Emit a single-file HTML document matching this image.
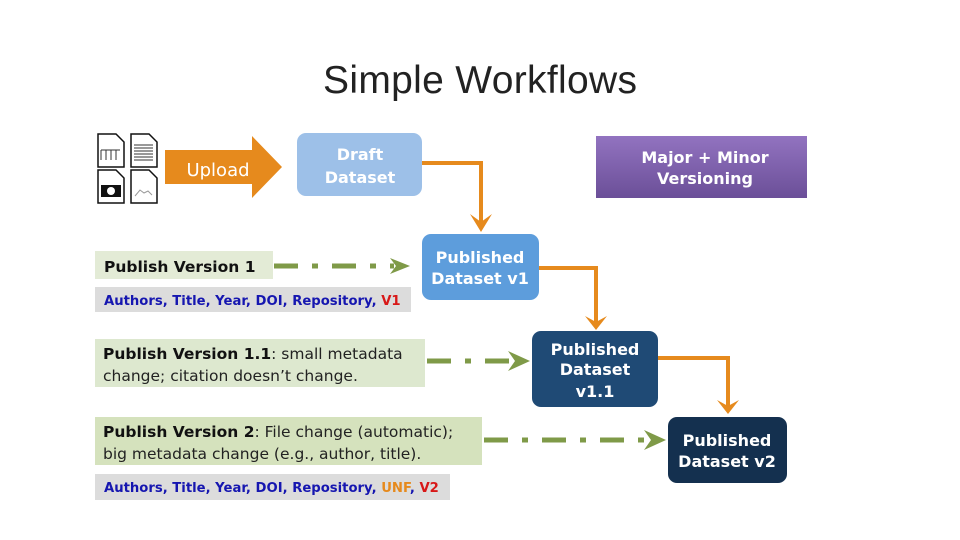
<!DOCTYPE html>
<html><head><meta charset="utf-8"><style>
html,body{margin:0;padding:0;background:#fff;}
svg{display:block}
.t{font-family:"DejaVu Sans","Liberation Sans",sans-serif;font-weight:bold;fill:#fff;font-size:16px;text-anchor:middle}
.b{font-family:"DejaVu Sans","Liberation Sans",sans-serif;font-size:15.5px;}
.c{font-family:"DejaVu Sans","Liberation Sans",sans-serif;font-size:13.2px;font-weight:bold;}
</style></head><body>
<svg width="960" height="540" viewBox="0 0 960 540" xmlns="http://www.w3.org/2000/svg">
<defs>
<linearGradient id="pg" x1="0" y1="0" x2="0" y2="1"><stop offset="0" stop-color="#9273c0"/><stop offset="1" stop-color="#6b4f98"/></linearGradient>
</defs>
<text x="480" y="93" text-anchor="middle" font-family="Liberation Sans,sans-serif" font-size="39" fill="#222" textLength="314">Simple Workflows</text>

<g fill="#fff" stroke="#111" stroke-width="1.5">
<path d="M98 134h18l8 8v25H98z"/><path d="M131 134h18l8 8v25h-26z"/>
<path d="M98 170h18l8 8v25H98z"/><path d="M131 170h18l8 8v25h-26z"/>
</g>
<g stroke="#333" stroke-width="1"><path d="M101 150h19M101 150v10M106 150v10M111 150v10M116 150v10"/>
<path d="M134 145h19M134 148h19M134 151h19M134 154h19M134 157h19M134 160h19"/></g>
<rect x="101" y="185" width="20" height="12" fill="#111"/><circle cx="111" cy="191" r="4" fill="#fff"/>
<path d="M135 196l5-6 4 3 4-2 4 4" stroke="#999" fill="none"/>

<path d="M165 150h87v-14l30 31-30 31v-14h-87z" fill="#e68a1d"/>
<text x="218" y="176" font-family="DejaVu Sans,sans-serif" font-size="18" fill="#fff" text-anchor="middle">Upload</text>

<rect x="297" y="133" width="125" height="63" rx="9" fill="#9dc0e8"/>
<text class="t" x="360" y="160">Draft</text><text class="t" x="360" y="183">Dataset</text>

<rect x="596" y="136" width="211" height="62" fill="url(#pg)"/>
<text class="t" x="705" y="163">Major + Minor</text><text class="t" x="705" y="184">Versioning</text>

<rect x="422" y="234" width="117" height="66" rx="9" fill="#5d9ddc"/>
<text class="t" x="480" y="263">Published</text><text class="t" x="480" y="284">Dataset v1</text>

<rect x="532" y="331" width="126" height="76" rx="9" fill="#1f4a75"/>
<text class="t" x="595" y="355">Published</text><text class="t" x="595" y="375">Dataset</text><text class="t" x="595" y="397">v1.1</text>

<rect x="668" y="417" width="119" height="66" rx="9" fill="#14304f"/>
<text class="t" x="727" y="446">Published</text><text class="t" x="727" y="467">Dataset v2</text>

<g stroke="#e68a1d" stroke-width="4" fill="none">
<path d="M422 163h59v60"/><path d="M539 268h57v57"/><path d="M658 358h70v48"/>
</g>
<g fill="#e68a1d">
<path d="M470 214l11 18 11-18-11 8z"/><path d="M585 316l11 14 11-14-11 6z"/><path d="M717 400l11 14 11-14-11 6z"/>
</g>

<rect x="95" y="251" width="178" height="28" fill="#e3ebd6"/>
<text x="104" y="272" style="font-family:'DejaVu Sans',sans-serif;font-weight:bold;font-size:15.5px" fill="#111">Publish Version 1</text>
<rect x="95" y="287" width="316" height="25" fill="#dcdcdc"/>
<text class="c" x="104" y="305" fill="#1616b0">Authors, Title, Year, DOI, Repository, <tspan fill="#d81818">V1</tspan></text>

<rect x="95" y="339" width="330" height="48" fill="#dde8cf"/>
<text class="b" x="103" y="359" fill="#222"><tspan font-weight="bold" fill="#111">Publish Version 1.1</tspan>: small metadata</text>
<text class="b" x="103" y="381" fill="#222">change; citation doesn’t change.</text>

<rect x="95" y="417" width="387" height="48" fill="#d5e2bd"/>
<text class="b" x="103" y="437" fill="#222"><tspan font-weight="bold" fill="#111">Publish Version 2</tspan>: File change (automatic);</text>
<text class="b" x="103" y="459" fill="#222">big metadata change (e.g., author, title).</text>

<rect x="95" y="474" width="355" height="26" fill="#dcdcdc"/>
<text class="c" x="104" y="492" fill="#1616b0">Authors, Title, Year, DOI, Repository, <tspan fill="#e68a1d">UNF</tspan>, <tspan fill="#d81818">V2</tspan></text>

<g stroke="#7f9a48" stroke-width="5" fill="none" stroke-dasharray="24 14 6 14">
<path d="M274 266h120"/><path d="M427 361h92"/><path d="M484 440h165"/>
</g>
<g fill="#7f9a48">
<path d="M390 258l20 8-20 8 6-8z"/><path d="M508 351l22 10-22 10 7-10z"/><path d="M644 430l22 10-22 10 7-10z"/>
</g>
</svg>
</body></html>
